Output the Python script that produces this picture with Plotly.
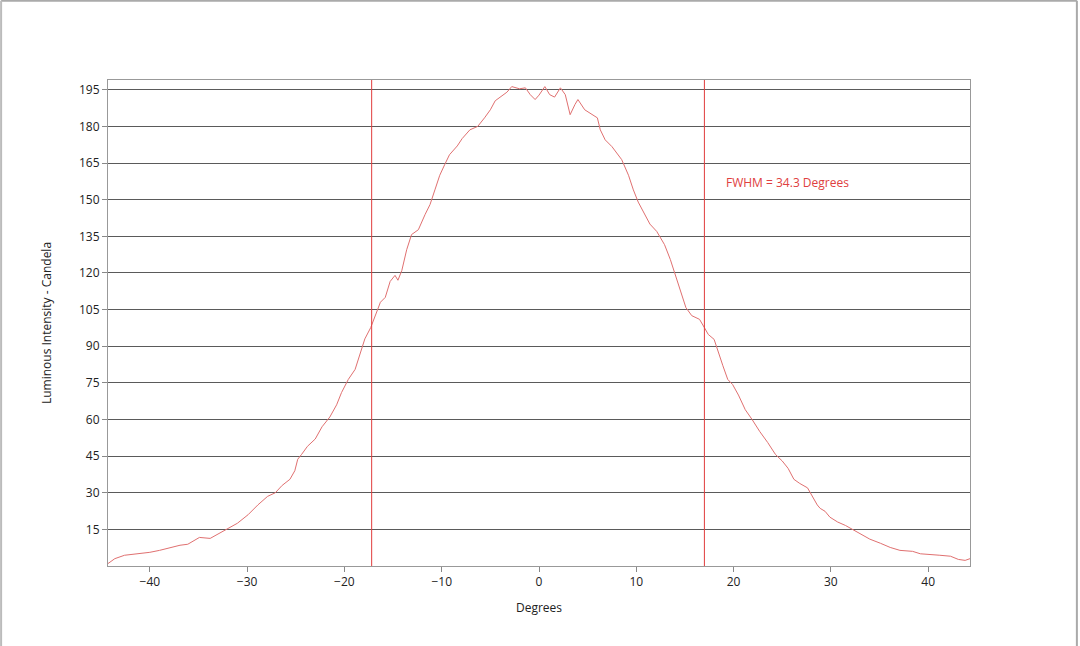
import plotly.graph_objects as go

degrees = [-44.3, -43.6, -42.6, -41.0, -40.0, -39.0, -37.9, -36.9, -36.1, -35.4,
           -34.9, -33.8, -33.0, -32.0, -31.0, -29.9, -28.9, -27.9, -27.1, -26.4,
           -25.6, -25.1, -24.8, -24.4, -23.8, -23.0, -22.3, -21.5, -20.8, -20.3,
           -19.6, -18.9, -18.4, -17.9, -17.3, -16.9, -16.3, -15.8, -15.3, -14.8,
           -14.5, -14.1, -13.6, -13.1, -12.4, -11.7, -11.2, -10.7, -10.2, -9.7,
           -9.2, -8.4, -7.9, -7.1, -6.3, -5.6, -5.0, -4.5, -4.0, -3.3,
           -2.8, -2.0, -1.4, -0.9, -0.4, 0.0, 0.6, 1.1, 1.6, 2.2,
           2.7, 3.2, 3.7, 4.0, 4.7, 5.4, 6.0, 6.3, 6.8, 7.5,
           8.1, 8.5, 9.2, 9.7, 10.2, 10.7, 11.4, 12.1, 12.9, 13.5,
           14.0, 14.5, 15.1, 15.7, 16.5, 17.0, 17.4, 18.0, 18.4, 18.9,
           19.4, 19.9, 20.5, 21.2, 21.9, 22.7, 23.5, 24.3, 25.0, 25.6,
           26.2, 26.8, 27.6, 28.1, 28.6, 28.9, 29.4, 29.9, 30.7, 31.5,
           32.2, 33.0, 34.0, 35.1, 36.1, 37.1, 38.4, 39.2, 40.2, 41.2,
           42.3, 43.1, 43.8, 44.3]

candela = [1.0, 3.0, 4.4, 5.0, 5.6, 6.4, 7.6, 8.5, 8.9, 10.5,
           11.7, 11.3, 13.0, 15.4, 17.5, 21.0, 25.0, 28.5, 30.0, 33.0,
           35.5, 39.0, 43.7, 45.7, 49.0, 52.0, 57.0, 61.0, 66.0, 71.0,
           76.4, 80.5, 86.6, 93.0, 97.6, 101.7, 108.0, 110.0, 116.5, 119.0,
           117.0, 121.0, 129.5, 135.7, 137.7, 144.0, 148.0, 154.0, 160.0, 164.3,
           168.4, 172.0, 175.0, 178.6, 180.0, 183.5, 186.8, 190.5, 192.0, 194.0,
           196.3, 195.4, 195.8, 193.0, 191.0, 192.8, 196.3, 193.0, 192.0, 195.8,
           193.0, 184.8, 189.0, 191.0, 186.8, 185.0, 183.5, 178.6, 174.5, 171.7,
           168.4, 166.4, 160.0, 154.0, 149.0, 145.0, 140.0, 137.0, 131.6, 125.5,
           119.3, 113.0, 105.8, 102.5, 101.0, 97.6, 94.8, 92.8, 87.8, 82.0,
           76.4, 74.3, 70.0, 64.0, 60.0, 55.0, 50.6, 45.7, 43.0, 40.0,
           35.5, 33.8, 32.0, 28.5, 25.0, 23.6, 22.4, 20.0, 18.0, 16.6,
           15.0, 13.4, 11.0, 9.3, 7.6, 6.4, 6.0, 5.0, 4.8, 4.4,
           4.0, 2.7, 2.3, 3.0]

half_max_left = -17.2
half_max_right = 17.0
fwhm_label = "FWHM = 34.3 Degrees"

x_ticks = [-40, -30, -20, -10, 0, 10, 20, 30, 40]
y_ticks = [15, 30, 45, 60, 75, 90, 105, 120, 135, 150, 165, 180, 195]

red = "#e04040"
font = "Open Sans, Noto Sans, DejaVu Sans, sans-serif"

fig = go.Figure()
fig.add_trace(go.Scatter(x=degrees, y=candela, mode="lines",
                         line=dict(color="#e07070", width=1), showlegend=False,
                         hoverinfo="x+y"))

for xv in (half_max_left, half_max_right):
    fig.add_shape(type="line", xref="x", yref="paper", x0=xv, x1=xv, y0=0, y1=1,
                  line=dict(color="#e03c3c", width=1))

fig.add_annotation(x=19.0, y=157, xref="x", yref="y", text=fwhm_label,
                   showarrow=False, xanchor="left", yanchor="middle",
                   font=dict(family=font, size=12, color=red))

# outer image frame
fig.add_shape(type="line", xref="paper", yref="paper", x0=-0.124, x1=1.124, y0=1.163, y1=1.163,
              line=dict(color="#aaaaaa", width=2))
fig.add_shape(type="line", xref="paper", yref="paper", x0=-0.124, x1=-0.124, y0=1.163, y1=-0.17,
              line=dict(color="#bbbbbb", width=2))
fig.add_shape(type="line", xref="paper", yref="paper", x0=1.124, x1=1.124, y0=1.163, y1=-0.17,
              line=dict(color="#aaaaaa", width=2))

fig.update_layout(
    width=1080, height=646,
    margin=dict(l=108, r=110, t=80, b=80),
    paper_bgcolor="white", plot_bgcolor="white",
    font=dict(family=font, size=12, color="#222222"),
    xaxis=dict(range=[-44.3, 44.3], tickvals=x_ticks, ticks="outside", ticklen=5,
               tickcolor="#888888", showgrid=False, zeroline=False,
               showline=True, linecolor="#999999", linewidth=1, mirror=True,
               title=dict(text="Degrees", standoff=14, font=dict(size=12)),
               tickfont=dict(size=12)),
    yaxis=dict(range=[0, 199], tickvals=y_ticks, ticks="outside", ticklen=5,
               tickcolor="#888888", showgrid=True, gridcolor="#5a5a5a", gridwidth=1,
               zeroline=False, showline=True, linecolor="#999999", linewidth=1, mirror=True,
               title=dict(text="Luminous Intensity - Candela", standoff=24, font=dict(size=12)),
               tickfont=dict(size=12)),
)

fig.write_html("out.html")
